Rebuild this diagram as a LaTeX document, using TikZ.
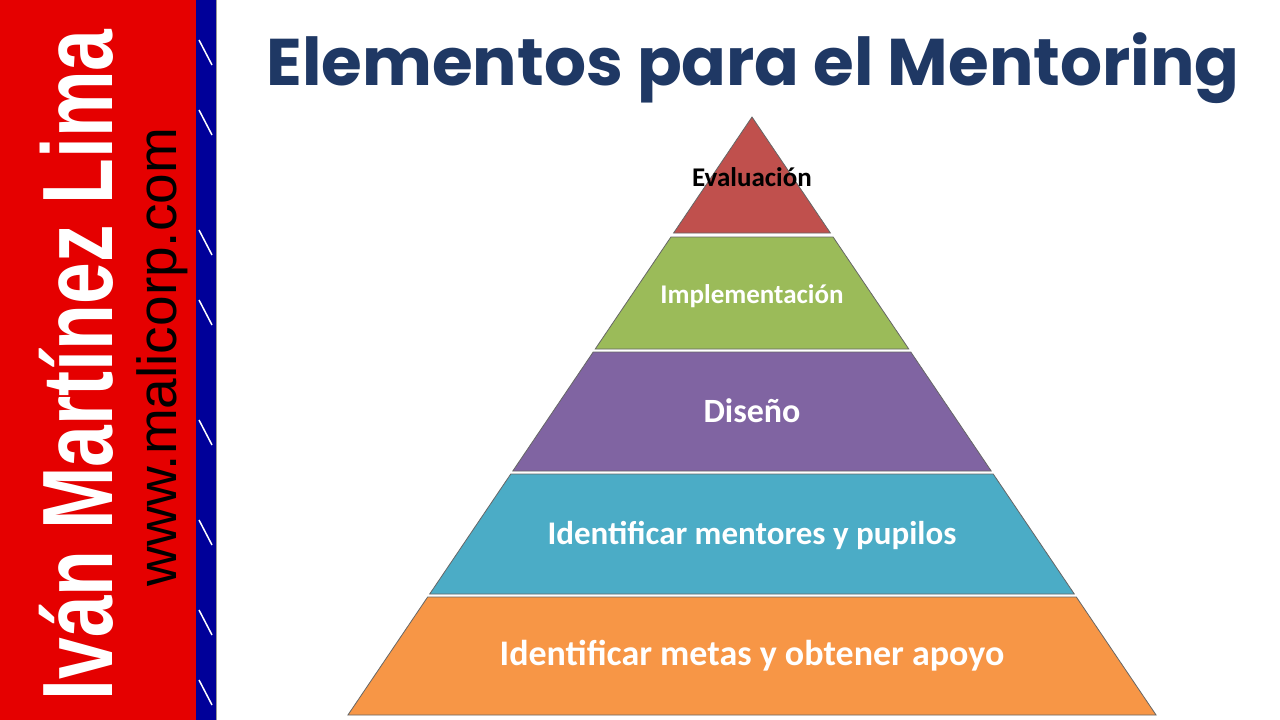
\documentclass[tikz,border=0pt]{standalone}
\usepackage{fontspec}
\setmainfont{Carlito}
\newfontfamily\titlefont{Poppins}[UprightFont=* Bold]
\newfontfamily\bannerfont{Liberation Sans}
\begin{document}
\begin{tikzpicture}[x=1pt,y=-1pt,
  lay/.style={draw=black!60,line width=0.8pt},
  lab/.style={font=\bfseries\fontsize{33}{33}\selectfont,text=white}]
\useasboundingbox (0,0) rectangle (1280,720);
\fill[white] (0,0) rectangle (1280,720);
\fill[red!90!black] (0,0) rectangle (196,720);
\fill[blue!60!black] (196,0) rectangle (216,720);
\foreach \y in {40,110,230,300,420,520,610,680}{\draw[white,line width=1.5pt] (199,\y) -- (212,\y+25);}
\draw[black!40] (216,0) -- (216,720);
\node[rotate=90,text=white,font=\bannerfont\bfseries\fontsize{100}{100}\selectfont,xscale=0.75] (name) at (76,365) {Iván Martínez Lima};
\node[rotate=90,text=black,font=\bannerfont\fontsize{55}{55}\selectfont] (web) at (162,357) {www.malicorp.com};
\node[font=\titlefont\fontsize{66}{66}\selectfont,text={rgb,255:red,31;green,56;blue,100}] (title) at (753,68) {Elementos para el Mentoring};
\def\L#1{752-(#1-117)*0.6757}
\def\R#1{752+(#1-117)*0.6757}
\fill[lay,fill={rgb,255:red,192;green,80;blue,77}] (752,117) -- ({\R{233}},233) -- ({\L{233}},233) -- cycle;
\fill[lay,fill={rgb,255:red,155;green,187;blue,89}] ({\L{237}},237) -- ({\R{237}},237) -- ({\R{349}},349) -- ({\L{349}},349) -- cycle;
\fill[lay,fill={rgb,255:red,128;green,100;blue,162}] ({\L{352}},352) -- ({\R{352}},352) -- ({\R{471}},471) -- ({\L{471}},471) -- cycle;
\fill[lay,fill={rgb,255:red,75;green,172;blue,198}] ({\L{474}},474) -- ({\R{474}},474) -- ({\R{594}},594) -- ({\L{594}},594) -- cycle;
\fill[lay,fill={rgb,255:red,247;green,150;blue,70}] ({\L{597}},597) -- ({\R{597}},597) -- ({\R{715}},715) -- ({\L{715}},715) -- cycle;
\node[font=\bfseries\fontsize{27}{27}\selectfont] (e) at (752,177) {Evaluación};
\node[lab,font=\bfseries\fontsize{27}{27}\selectfont] (i) at (752,296) {Implementación};
\node[lab,font=\bfseries\fontsize{34}{34}\selectfont] (d) at (752,411) {Diseño};
\node[lab] (m) at (752,535) {Identificar mentores y pupilos};
\node[lab,font=\bfseries\fontsize{36}{36}\selectfont] (a) at (752,656) {Identificar metas y obtener apoyo};
\end{tikzpicture}
\end{document}
